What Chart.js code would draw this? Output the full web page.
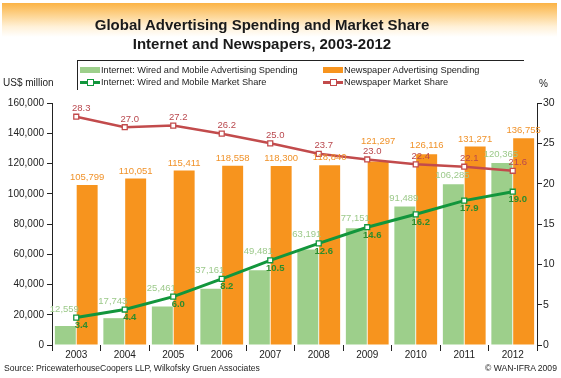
<!DOCTYPE html>
<html>
<head>
<meta charset="utf-8">
<script src="https://cdn.jsdelivr.net/npm/chart.js@4"></script>
<style>
  html,body{margin:0;padding:0;background:#fff;}
  #wrap{position:relative;width:561px;height:378px;overflow:hidden;font-family:"Liberation Sans",Arial,Helvetica,sans-serif;color:#222;}
  #hdr{position:absolute;left:2px;top:3px;width:555px;height:34px;background:linear-gradient(to bottom,#fbb345 0%,#fdd38e 35%,#fff1d8 70%,#ffffff 100%);}
  #c{position:absolute;left:0;top:0;}
  .t{position:absolute;white-space:nowrap;}
  #title{left:0;width:524px;text-align:center;top:15px;font-weight:bold;font-size:15px;line-height:19px;color:#1a1a1a;}
  #legend{position:absolute;left:77px;top:60px;width:446px;height:29px;border-top:1px solid #222;border-left:1px solid #222;}
  .li{position:absolute;font-size:9.2px;line-height:11px;color:#222;white-space:nowrap;}
  .sw{position:absolute;width:20px;height:6px;}
  .ln{position:absolute;width:20px;height:3px;}
  .mk{position:absolute;width:5px;height:5px;background:#fff;}
</style>
</head>
<body>
<div id="wrap">
  <div id="hdr"></div>
  <canvas id="c" width="561" height="378"></canvas>
  <div id="title" class="t">Global Advertising Spending and Market Share<br>Internet and Newspapers, 2003-2012</div>
  <div id="legend">
    <div class="sw" style="left:2px;top:6px;background:#9dcf8b;"></div>
    <div class="li" style="left:23px;top:4px;">Internet: Wired and Mobile Advertising Spending</div>
    <div class="ln" style="left:2px;top:20px;background:#12963c;"></div>
    <div class="mk" style="left:9px;top:18px;border:1px solid #12963c;"></div>
    <div class="li" style="left:23px;top:16px;">Internet: Wired and Mobile Market Share</div>
    <div class="sw" style="left:245px;top:6px;background:#f7941e;"></div>
    <div class="li" style="left:266px;top:4px;">Newspaper Advertising Spending</div>
    <div class="ln" style="left:245px;top:20px;background:#c24b4c;"></div>
    <div class="mk" style="left:252px;top:18px;border:1px solid #c24b4c;"></div>
    <div class="li" style="left:266px;top:16px;">Newspaper Market Share</div>
  </div>
  <div class="t" style="left:3px;top:77px;font-size:10px;">US$ million</div>
  <div class="t" style="left:539px;top:78px;font-size:10px;">%</div>
  <div class="t" style="left:4px;top:363px;font-size:8.6px;">Source: PricewaterhouseCoopers LLP, Wilkofsky Gruen Associates</div>
  <div class="t" style="left:485px;top:363px;font-size:8.6px;">© WAN-IFRA 2009</div>
</div>
<script>
const years = ['2003','2004','2005','2006','2007','2008','2009','2010','2011','2012'];
const internetSpending = [12559, 17743, 25461, 37161, 49481, 63191, 77151, 91489, 106285, 120365];
const newspaperSpending = [105799, 110051, 115411, 118558, 118300, 118840, 121297, 126116, 131271, 136755];
const internetShare = [3.4, 4.4, 6.0, 8.2, 10.5, 12.6, 14.6, 16.2, 17.9, 19.0];
const newspaperShare = [28.3, 27.0, 27.2, 26.2, 25.0, 23.7, 23.0, 22.4, 22.1, 21.6];
const leftTicks = [0, 20000, 40000, 60000, 80000, 100000, 120000, 140000, 160000];
const rightTicks = [0, 5, 10, 15, 20, 25, 30];

const FONT = '"Liberation Sans", Arial, Helvetica, sans-serif';
const fmt = v => v.toLocaleString('en-US');

const labelPlugin = {
  id: 'valueLabels',
  afterDatasetsDraw(chart) {
    const ctx = chart.ctx;
    const mGreen = chart.getDatasetMeta(0).data;
    const mOrange = chart.getDatasetMeta(1).data;
    const mGLine = chart.getDatasetMeta(2).data;
    const mRLine = chart.getDatasetMeta(3).data;
    ctx.save();
    ctx.font = '9.5px ' + FONT;
    ctx.textAlign = 'center';
    ctx.textBaseline = 'middle';
    // orange bar labels (lifted above the red share label when they would collide)
    ctx.fillStyle = '#f0922a';
    mOrange.forEach((el, i) => {
      let y = el.y - 7.5;
      const redY = mRLine[i].y - 8;
      if (Math.abs(y - redY) < 11) y = redY - 10.5;
      ctx.fillText(fmt(newspaperSpending[i]), el.x, y);
    });
    // green bar labels
    ctx.fillStyle = '#9cc98a';
    mGreen.forEach((el, i) => {
      const y = Math.min(el.y, mGLine[i].y) - 8.5;
      ctx.fillText(fmt(internetSpending[i]), el.x - 1, y);
    });
    // red share labels
    ctx.fillStyle = '#b9474d';
    mRLine.forEach((el, i) => ctx.fillText(newspaperShare[i].toFixed(1), el.x + 5, el.y - 8));
    // green share labels
    ctx.fillStyle = '#2c8c2c';
    ctx.font = 'bold 9.5px ' + FONT;
    mGLine.forEach((el, i) => ctx.fillText(internetShare[i].toFixed(1), el.x + 5, el.y + 8));
    ctx.restore();
  }
};

new Chart(document.getElementById('c'), {
  data: {
    labels: years,
    datasets: [
      { type: 'bar', label: 'Internet: Wired and Mobile Advertising Spending', data: internetSpending,
        backgroundColor: '#9dcf8b', yAxisID: 'y', order: 2, categoryPercentage: 0.9, barPercentage: 0.96 },
      { type: 'bar', label: 'Newspaper Advertising Spending', data: newspaperSpending,
        backgroundColor: '#f7941e', yAxisID: 'y', order: 2, categoryPercentage: 0.9, barPercentage: 0.96 },
      { type: 'line', label: 'Internet: Wired and Mobile Market Share', data: internetShare,
        borderColor: '#12963c', borderWidth: 3, pointStyle: 'rect', pointRadius: 3.5,
        pointBackgroundColor: '#fff', pointBorderColor: '#12963c', pointBorderWidth: 1.3,
        yAxisID: 'y1', order: 0, tension: 0 },
      { type: 'line', label: 'Newspaper Market Share', data: newspaperShare,
        borderColor: '#c24b4c', borderWidth: 2.5, pointStyle: 'rect', pointRadius: 3.5,
        pointBackgroundColor: '#fff', pointBorderColor: '#c24b4c', pointBorderWidth: 1.3,
        yAxisID: 'y1', order: 1, tension: 0 }
    ]
  },
  options: {
    responsive: false,
    animation: false,
    devicePixelRatio: 1,
    layout: { padding: { top: 103, left: 0, right: 0, bottom: 0 } },
    plugins: { legend: { display: false }, tooltip: { enabled: false }, title: { display: false } },
    scales: {
      x: {
        grid: { offset: true, drawOnChartArea: false, drawTicks: true, tickLength: 6, color: '#222', lineWidth: 1 },
        border: { display: false },
        ticks: { color: '#222', font: { family: FONT, size: 10 }, padding: -2, maxRotation: 0 },
        afterFit(s) { s.height = 33; }
      },
      y: {
        position: 'left', min: 0, max: 160000,
        afterBuildTicks(s) { s.ticks = leftTicks.map(v => ({ value: v })); },
        grid: { drawOnChartArea: false, tickLength: 5, color: '#222' },
        border: { display: true, color: '#222', width: 1 },
        ticks: { color: '#222', font: { family: FONT, size: 10 }, padding: 3, callback: v => fmt(v) },
        afterFit(s) { s.width = 52; }
      },
      y1: {
        position: 'right', min: 0, max: 30,
        afterBuildTicks(s) { s.ticks = rightTicks.map(v => ({ value: v })); },
        grid: { drawOnChartArea: false, tickLength: 5, color: '#222' },
        border: { display: true, color: '#222', width: 1 },
        ticks: { color: '#222', font: { family: FONT, size: 10.5 }, padding: 1 },
        afterFit(s) { s.width = 24; }
      }
    }
  },
  plugins: [labelPlugin]
});
</script>
</body>
</html>
